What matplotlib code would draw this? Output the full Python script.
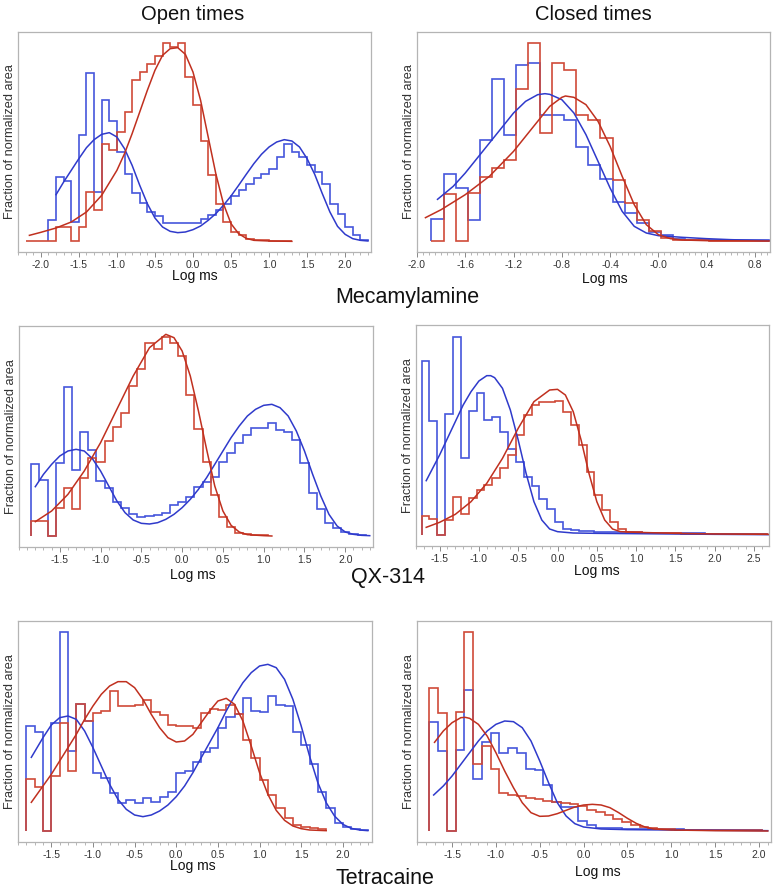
import numpy as np
import matplotlib
matplotlib.use("Agg")
import matplotlib.pyplot as plt

plt.rcParams['font.family'] = ['Liberation Sans Narrow', 'Liberation Sans', 'DejaVu Sans']

BLUE_FIT = '#2f3acb'
RED_FIT = '#c0301f'
BLUE_HIST = '#4656dc'
RED_HIST = '#cf4a38'
BIN_W = 0.1

# ---------------- Mecamylamine, open times ----------------
mec_open_blue_start = -1.9
mec_open_blue_hist = [65,193,181,58,318,506,148,425,361,268, 203,146,116,88,76,55,55,55,55,55,
                      68,78,93,113,136,153,171,190,203, 218,253,291,268,253,228,208,171,113,83,43,18,5]
mec_open_red_start = -2.2
mec_open_red_hist = [0,0,0,0, 43,43,0,43,148,93, 293,273,328,388,485,508,533,555,595,583,
                     595,493,408,300,198,113,58,28,18,8, 5,3,2,2,1]
mec_open_blue_fit_x = [-1.8,-1.7,-1.6,-1.5,-1.4,-1.3,-1.2,-1.1,-1.0,-0.9,-0.8,-0.7,-0.6,-0.5,-0.4,-0.3,-0.2,-0.1,
                       0.0,0.1,0.2,0.3,0.4,0.5,0.6,0.7,0.8,0.9,1.0,1.1,1.2,1.3,1.4,1.5,1.6,1.7,1.8,1.9,2.0,2.1,2.2,2.3]
mec_open_blue_fit_y = [140,178,213,248,281,305,321,326,313,278,228,168,113,70,43,30,26,28,
                       35,46,63,83,108,136,168,201,233,261,283,298,305,301,283,248,201,143,88,45,21,8,3,1]
mec_open_red_fit_x = [-2.15,-2.0,-1.8,-1.6,-1.4,-1.2,-1.0,-0.9,-0.8,-0.7,-0.6,-0.5,-0.4,-0.3,-0.2,-0.1,
                      0.0,0.1,0.2,0.3,0.4,0.5,0.6,0.7,0.8,1.0,1.3]
mec_open_red_fit_y = [18,27,40,58,88,138,213,263,323,388,453,513,558,578,581,561,
                      508,423,313,203,113,53,23,9,3,1,0]

# ---------------- Mecamylamine, closed times ----------------
mec_closed_blue_start = -1.88
mec_closed_blue_hist = [68,201,161,65,305,488,318,528,536,378, 378,363,283,230,186,118,85,55,28,18,
                        8,5,4,3,3,3,3,3]
mec_closed_red_start = -1.88
mec_closed_red_hist = [0,143,0,145,193,221,243,458,596,325, 536,515,380,363,310,185,115,65,30,11,
                       4,3,3,2,2,2,2,2]
mec_closed_blue_fit_x = [-1.83,-1.7,-1.6,-1.5,-1.4,-1.3,-1.2,-1.1,-1.0,-0.94,-0.9,-0.8,-0.7,-0.6,-0.5,-0.4,
                         -0.3,-0.2,-0.1,0.0,0.2,0.4,0.6,0.8,0.92]
mec_closed_blue_fit_y = [126,165,205,250,295,340,385,420,440,443,441,425,385,320,240,160,
                         90,45,25,17,12,8,5,3,2]
mec_closed_red_fit_x = [-1.93,-1.8,-1.6,-1.4,-1.2,-1.0,-0.9,-0.8,-0.77,-0.7,-0.6,-0.5,-0.4,-0.3,-0.2,-0.1,
                        0.0,0.1,0.2,0.4,0.92]
mec_closed_red_fit_y = [71,95,140,195,270,360,405,432,436,432,410,360,285,195,110,50,
                        20,8,4,2,1]

# ---------------- QX-314, open times ----------------
qx_open_blue_start = -1.85
qx_open_blue_hist = [215,168,0,220,448,198,313,258,166,143, 103,83,66,56,60,63,68,93,103,118,
                     146,161,178,223,248,278,303,323,323,338, 318,313,288,220,130,80,38,25,12,5,2]
qx_open_red_start = -1.85
qx_open_red_hist = [46,46,0,83,143,80,173,235,223,286, 328,368,450,501,578,560,596,578,540,423,
                    320,223,123,58,26,10,5,3,2]
qx_open_blue_fit_x = [-1.8,-1.7,-1.6,-1.5,-1.4,-1.3,-1.2,-1.1,-1.0,-0.9,-0.8,-0.7,-0.6,-0.5,-0.4,-0.3,-0.2,-0.1,
                      0.0,0.1,0.2,0.3,0.4,0.5,0.6,0.7,0.8,0.9,1.0,1.1,1.2,1.3,1.4,1.5,1.6,1.7,1.8,1.9,2.0,2.1,2.2,2.3]
qx_open_blue_fit_y = [148,185,215,240,255,260,255,232,195,150,105,70,48,38,36,40,50,65,
                      85,110,140,175,215,255,295,330,360,380,392,395,385,360,315,255,185,120,65,30,12,5,2,1]
qx_open_red_fit_x = [-1.8,-1.6,-1.4,-1.2,-1.0,-0.8,-0.6,-0.4,-0.2,-0.1,0.0,0.1,0.2,0.3,0.4,0.5,0.6,0.7,0.8,1.0,1.1]
qx_open_red_fit_y = [43,75,125,195,280,380,480,565,605,595,555,480,375,260,150,75,32,12,4,1,0]

# ---------------- QX-314, closed times ----------------
qx_closed_blue_start = -1.73
qx_closed_blue_hist = [523,342,0,362,595,230,372,427,345,355, 310,257,220,175,147,107,77,40,18,14,
                       12,11,10,10,9,9,8,8,7,7, 6,6,6,5,5,5,4,4,4,4, 3,3,3,3]
qx_closed_red_start = -1.73
qx_closed_red_hist = [57,47,0,45,115,63,110,135,150,170, 200,240,300,360,390,400,400,402,370,330,
                      270,190,120,75,40,18,10,8,7,6, 5,5,5,4,4,4,4,3,3,3, 3,3,3,3]
qx_closed_blue_fit_x = [-1.67,-1.5,-1.4,-1.3,-1.2,-1.1,-1.0,-0.9,-0.85,-0.8,-0.7,-0.6,-0.5,-0.4,-0.3,-0.2,-0.1,
                        0.0,0.2,0.5,1.0,1.5,2.0,2.7]
qx_closed_blue_fit_y = [163,240,290,340,390,430,462,478,478,472,440,375,285,185,100,45,18,
                        10,6,5,4,3,2,1]
qx_closed_red_fit_x = [-1.67,-1.5,-1.3,-1.1,-0.9,-0.7,-0.5,-0.3,-0.1,0.0,0.1,0.2,0.3,0.4,0.5,0.6,0.7,0.8,1.0,1.5,2.0,2.7]
qx_closed_red_fit_y = [23,38,62,100,155,230,320,400,435,437,420,370,285,185,100,45,18,10,8,5,3,2]

# ---------------- Tetracaine, open times ----------------
tet_open_blue_start = -1.8
tet_open_blue_hist = [316,296,0,323,598,240,380,331,175,160, 115,85,93,85,100,88,101,118,175,181,
                      208,236,250,308,341,350,398,360,358,405, 378,375,298,258,201,116,68,25,13,5,3]
tet_open_red_start = -1.8
tet_open_red_hist = [156,133,0,166,323,180,380,330,353,360, 420,375,375,378,393,358,348,318,316,316,
                     308,353,365,363,378,350,273,218,153,108, 68,38,18,11,8,5]
tet_open_blue_fit_x = [-1.74,-1.6,-1.5,-1.4,-1.3,-1.2,-1.1,-1.0,-0.9,-0.8,-0.7,-0.6,-0.5,-0.4,-0.3,-0.2,-0.1,
                       0.0,0.1,0.2,0.3,0.4,0.5,0.6,0.7,0.8,0.9,1.0,1.1,1.2,1.3,1.4,1.5,1.6,1.7,1.8,1.9,2.0,2.1,2.2,2.3]
tet_open_blue_fit_y = [221,280,318,340,345,335,300,250,195,140,95,65,48,43,48,60,78,
                       103,135,175,220,265,310,360,405,445,475,495,500,490,455,395,315,225,145,85,45,20,8,3,1]
tet_open_red_fit_x = [-1.74,-1.6,-1.5,-1.4,-1.3,-1.2,-1.1,-1.0,-0.9,-0.8,-0.7,-0.6,-0.5,-0.4,-0.3,-0.2,-0.1,
                      0.0,0.1,0.2,0.3,0.4,0.5,0.6,0.7,0.8,0.9,1.0,1.1,1.2,1.3,1.4,1.5,1.6,1.8]
tet_open_red_fit_y = [86,135,170,210,250,290,335,375,410,435,448,448,430,395,350,310,280,
                      267,270,290,325,360,390,398,380,330,255,175,110,62,32,15,7,3,1]

# ---------------- Tetracaine, closed times ----------------
tet_closed_blue_start = -1.76
tet_closed_blue_hist = [328,240,0,243,423,155,268,295,233,248, 235,185,182,137,87,72,72,29,17,
                        9,8,8,7,7,6,6,5,5,5,4,4,4,3,3,3,3,2,2]
tet_closed_red_start = -1.76
tet_closed_red_hist = [430,355,0,358,598,200,256,186,114,107, 104,100,95,90,87,84,82,74,64,57,
                       47,37,27,17,12,8,6,5,4,4, 3,3,3,3,2,2,2,2]
tet_closed_blue_fit_x = [-1.71,-1.6,-1.5,-1.4,-1.3,-1.2,-1.1,-1.0,-0.9,-0.8,-0.7,-0.6,-0.5,-0.4,-0.3,-0.2,-0.1,
                         0.0,0.2,0.5,1.0,1.5,2.1]
tet_closed_blue_fit_y = [108,135,165,200,235,270,300,320,330,328,310,270,210,145,85,45,22,
                         12,6,4,3,2,1]
tet_closed_red_fit_x = [-1.7,-1.6,-1.5,-1.4,-1.35,-1.3,-1.2,-1.1,-1.0,-0.9,-0.8,-0.7,-0.6,-0.5,-0.4,-0.3,-0.2,-0.1,
                        0.0,0.1,0.2,0.3,0.4,0.5,0.6,0.7,0.8,1.0,1.5,2.1]
tet_closed_red_fit_y = [266,300,325,340,341,338,320,285,235,180,130,85,55,44,45,52,62,72,
                        78,80,78,70,55,38,23,12,6,3,1,0]

W, H = 774, 889
fig = plt.figure(figsize=(W / 100, H / 100), dpi=100)


def add_axes(l, t, r, b):
    return fig.add_axes([l / W, 1 - b / H, (r - l) / W, (b - t) / H])


def draw_panel(ax, blue_start, blue_hist, red_start, red_hist,
               bfx, bfy, rfx, rfy, xlim, ylim, major, major_lo, major_hi, minor):
    be = blue_start + BIN_W * np.arange(len(blue_hist) + 1)
    re = red_start + BIN_W * np.arange(len(red_hist) + 1)
    ax.stairs(blue_hist, be, baseline=0, color=BLUE_HIST, lw=1.2)
    ax.stairs(red_hist, re, baseline=0, color=RED_HIST, lw=1.2)
    ax.plot(bfx, bfy, color=BLUE_FIT, lw=1.1)
    ax.plot(rfx, rfy, color=RED_FIT, lw=1.1)
    ax.set_xlim(*xlim)
    ax.set_ylim(*ylim)
    ax.set_yticks([])
    ticks = np.round(np.arange(major_lo, major_hi + 1e-9, major), 2)
    ax.set_xticks(ticks)
    ax.set_xticklabels(['%.1f' % t for t in ticks])
    mt = np.round(np.arange(xlim[0] - xlim[0] % minor, xlim[1], minor), 3)
    ax.set_xticks(mt, minor=True)
    for s in ax.spines.values():
        s.set_color('#b4b4b4')
        s.set_linewidth(0.9)
    ax.tick_params(axis='x', which='major', length=3.5, width=0.7, color='#888888',
                   labelsize=7.5, labelcolor='#333333', pad=2)
    ax.tick_params(axis='x', which='minor', length=2, width=0.5, color='#999999')
    ax.set_ylabel('Fraction of normalized area', fontsize=9.2, color='#333333', labelpad=1.5,
                  family=['Liberation Sans', 'DejaVu Sans'])


ax1 = add_axes(18, 32, 371, 252)
draw_panel(ax1, mec_open_blue_start, mec_open_blue_hist, mec_open_red_start, mec_open_red_hist,
           mec_open_blue_fit_x, mec_open_blue_fit_y, mec_open_red_fit_x, mec_open_red_fit_y,
           (-2.24, 2.34), (-32, 628), 0.5, -2.0, 2.0, 0.1)
ax2 = add_axes(417, 32, 770, 252)
draw_panel(ax2, mec_closed_blue_start, mec_closed_blue_hist, mec_closed_red_start, mec_closed_red_hist,
           mec_closed_blue_fit_x, mec_closed_blue_fit_y, mec_closed_red_fit_x, mec_closed_red_fit_y,
           (-2.0, 0.925), (-32, 628), 0.4, -2.0, 0.8, 0.05)
ax3 = add_axes(19, 326, 373, 547)
draw_panel(ax3, qx_open_blue_start, qx_open_blue_hist, qx_open_red_start, qx_open_red_hist,
           qx_open_blue_fit_x, qx_open_blue_fit_y, qx_open_red_fit_x, qx_open_red_fit_y,
           (-1.91, 2.34), (-33, 630), 0.5, -1.5, 2.0, 0.1)
ax4 = add_axes(416, 325, 769, 546)
draw_panel(ax4, qx_closed_blue_start, qx_closed_blue_hist, qx_closed_red_start, qx_closed_red_hist,
           qx_closed_blue_fit_x, qx_closed_blue_fit_y, qx_closed_red_fit_x, qx_closed_red_fit_y,
           (-1.785, 2.69), (-33, 630), 0.5, -1.5, 2.5, 0.1)
ax5 = add_axes(18, 621, 372, 842)
draw_panel(ax5, tet_open_blue_start, tet_open_blue_hist, tet_open_red_start, tet_open_red_hist,
           tet_open_blue_fit_x, tet_open_blue_fit_y, tet_open_red_fit_x, tet_open_red_fit_y,
           (-1.846, 2.35), (-33, 630), 0.5, -1.5, 2.0, 0.1)
ax6 = add_axes(417, 621, 771, 842)
draw_panel(ax6, tet_closed_blue_start, tet_closed_blue_hist, tet_closed_red_start, tet_closed_red_hist,
           tet_closed_blue_fit_x, tet_closed_blue_fit_y, tet_closed_red_fit_x, tet_closed_red_fit_y,
           (-1.81, 2.137), (-33, 630), 0.5, -1.5, 2.0, 0.1)


def ftext(x, y, s, size, **kw):
    fig.text(x / W, 1 - y / H, s, fontsize=size, ha='center', va='center', color='#111111', **kw)


ftext(193, 15, 'Open times', 14.5)
ftext(593, 15, 'Closed times', 14.5)
ftext(407, 298, 'Mecamylamine', 15.5)
ftext(388, 578, 'QX-314', 15.5)
ftext(385, 878, 'Tetracaine', 15.5)
for (x, y) in [(195, 276), (605, 279), (193, 575), (597, 571), (193, 866), (598, 872)]:
    ftext(x, y, 'Log ms', 10)

fig.savefig('out.png', dpi=100)
